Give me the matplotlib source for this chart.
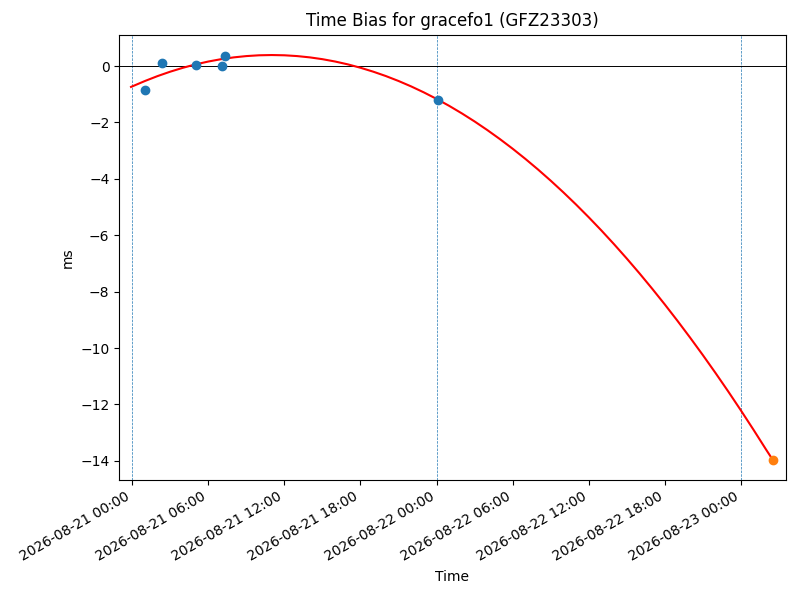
import matplotlib
matplotlib.use("Agg")
import matplotlib.pyplot as plt
import matplotlib.dates as mdates
import pandas as pd

# Observed time bias points (blue)
obs_times = ["2026-08-21 01:02", "2026-08-21 02:19", "2026-08-21 05:03",
             "2026-08-21 07:04", "2026-08-21 07:20", "2026-08-22 00:09"]
obs_values = [-0.86, 0.10, 0.03, 0.00, 0.35, -1.21]

# Predicted point (orange)
pred_times = ["2026-08-23 02:31"]
pred_values = [-13.96]

# Fitted curve samples (red): start, hourly 2026-08-21 01:00 .. 2026-08-23 02:00, end
fit_start = "2026-08-20 23:54"
fit_hourly_first = "2026-08-21 01:00"
fit_end = "2026-08-23 02:31"
fit_values = [-0.74,
              -0.530, -0.355, -0.199, -0.061, 0.059, 0.160, 0.243, 0.307, 0.353, 0.381,
              0.390, 0.381, 0.353, 0.307, 0.243, 0.160, 0.059, -0.061, -0.199, -0.355,
              -0.530, -0.723, -0.935, -1.165, -1.413, -1.680, -1.965, -2.269, -2.591, -2.931,
              -3.290, -3.667, -4.063, -4.477, -4.909, -5.360, -5.829, -6.317, -6.823, -7.347,
              -7.890, -8.451, -9.031, -9.629, -10.245, -10.880, -11.533, -12.205, -12.895, -13.603,
              -13.96]

# Day boundaries (vertical dashed lines)
day_lines = ["2026-08-21 00:00", "2026-08-22 00:00", "2026-08-23 00:00"]

x_limits = ["2026-08-20 22:58", "2026-08-23 03:32"]

n_hourly = len(fit_values) - 2
fit_times = ([pd.Timestamp(fit_start)]
             + list(pd.date_range(fit_hourly_first, periods=n_hourly, freq="h"))
             + [pd.Timestamp(fit_end)])

fig, ax = plt.subplots(figsize=(8, 6), dpi=100)

for d in pd.to_datetime(day_lines):
    ax.axvline(d, color="C0", ls="--", lw=0.5, zorder=1)
ax.axhline(0, color="black", lw=0.7, zorder=1)
ax.plot(fit_times, fit_values, color="red", lw=1.5, zorder=2)
ax.plot(pd.to_datetime(obs_times), obs_values, "o", color="C0", zorder=3)
ax.plot(pd.to_datetime(pred_times), pred_values, "o", color="C1", zorder=3)

ax.set_xlim(pd.to_datetime(x_limits))
ax.xaxis.set_major_locator(mdates.HourLocator(byhour=[0, 6, 12, 18]))
ax.xaxis.set_major_formatter(mdates.DateFormatter("%Y-%m-%d %H:%M"))
ax.set_title("Time Bias for gracefo1 (GFZ23303)")
ax.set_xlabel("Time")
ax.set_ylabel("ms")
fig.autofmt_xdate()
fig.subplots_adjust(left=0.149, right=0.982, top=0.942, bottom=0.2)
fig.savefig("out.png")
